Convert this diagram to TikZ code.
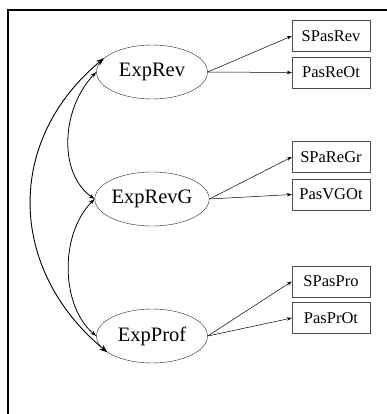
\documentclass[tikz,border=0pt]{standalone}
\usepackage{fontspec}
\setmainfont{Liberation Serif}
\usetikzlibrary{arrows.meta,shapes.geometric}
\begin{document}
\begin{tikzpicture}[x=1pt,y=1pt,
  latent/.style={draw=black!85,ellipse,minimum width=111pt,minimum height=54pt,inner sep=0pt,font=\fontsize{20.5}{24}\selectfont},
  indic/.style={draw=black!70,rectangle,minimum width=78pt,minimum height=31pt,inner sep=0pt,font=\fontsize{16.5}{19}\selectfont},
  fleche/.style={-{Stealth[length=5pt,width=3.5pt]},line width=0.5pt},
  cov/.style={{Stealth[length=6pt,width=4pt]}-{Stealth[length=6pt,width=4pt]},line width=0.8pt},
  covlong/.style={{Stealth[length=8pt,width=6pt]}-{Stealth[length=8pt,width=6pt]},line width=0.9pt}]

\useasboundingbox (0,0) rectangle (387,-414);

% Cadre
\draw[line width=2pt] (7.5,-414) -- (7.5,-10.5) -- (387,-10.5);

% Variables latentes
\node[latent] (rev) at (152,-72) {ExpRev};
\node[latent] (revg) at (152,-199) {ExpRevG};
\node[latent] (prof) at (152,-336) {ExpProf};

% Indicateurs
\node[indic] (sprev) at (331,-36) {SPasRev};
\node[indic] (preot) at (331,-72.5) {PasReOt};
\node[indic] (sparegr) at (331,-157) {SPaReGr};
\node[indic] (pvgot) at (331,-194.5) {PasVGOt};
\node[indic] (sppro) at (331,-281.5) {SPasPro};
\node[indic] (pprot) at (331,-318) {PasPrOt};

% Fleches vers les indicateurs
\draw[fleche] (rev.east) -- (sprev.west);
\draw[fleche] (rev.east) -- (preot.west);
\draw[fleche] (revg.east) -- (sparegr.west);
\draw[fleche] (revg.east) -- (pvgot.west);
\draw[fleche] (prof.east) -- (sppro.west);
\draw[fleche] (prof.east) -- (pprot.west);

% Covariances
\draw[cov] (rev.west) .. controls +(-36,-38) and +(-36,25) .. (revg.west);
\draw[cov] (revg.west) .. controls +(-36,-36) and +(-35,29) .. (prof.west);
\draw[covlong] (rev.164) .. controls +(-99,-82) and +(-100,83) .. (prof.200);

\end{tikzpicture}
\end{document}
